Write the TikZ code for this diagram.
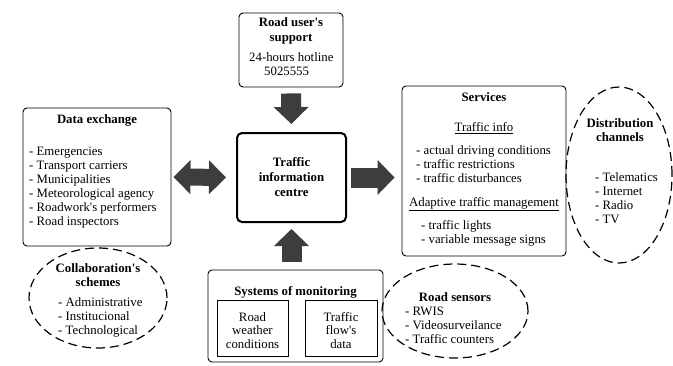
\documentclass[tikz,border=0pt]{standalone}
\usepackage{fontspec}
\setmainfont{Liberation Serif}
\usetikzlibrary{arrows.meta,shapes.geometric}
\newcommand{\apos}{\textquotesingle}

\begin{document}
\begin{tikzpicture}[x=1pt,y=-1pt,
    every node/.style={font=\rmfamily\fontsize{12.8}{14}\selectfont, inner sep=0pt},
    box/.style={draw, rounded corners=4pt, line width=0.9pt},
    subbox/.style={draw, line width=0.8pt},
    cloud/.style={draw, ellipse, line width=1.2pt, dash pattern=on 9pt off 5pt},
    title/.style={font=\rmfamily\fontsize{12.8}{14.5}\selectfont\bfseries, align=center},
    list/.style={align=left, anchor=north west},
    bigarrow/.style={draw=black!76, line width=20pt, -{Triangle[length=17pt,width=34pt]}},
    bigdarrow/.style={draw=black!76, line width=17pt, {Triangle[length=17pt,width=33pt]}-{Triangle[length=17pt,width=33pt]}}]
    \useasboundingbox (0,0) rectangle (673,365);

    % Draw boxes
    \node[box, minimum width=148pt, minimum height=138pt] (dx) at (97,177) {};
    \node[box, minimum width=104pt, minimum height=74pt] (rus) at (291,50) {};
    \node[box, line width=2pt, rounded corners=5pt, minimum width=109pt, minimum height=89pt] (tic) at (291.5,177.5) {};
    \node[box, minimum width=164pt, minimum height=170pt] (svc) at (484,171) {};
    \node[box, minimum width=175pt, minimum height=92pt] (mon) at (295.5,316) {};
    \node[subbox, minimum width=71pt, minimum height=56pt] (weather) at (252.5,328) {};
    \node[subbox, minimum width=72pt, minimum height=56pt] (flow) at (341,328) {};

    % Draw dashed ellipses
    \node[cloud, minimum width=138pt, minimum height=100pt] (collab) at (98,298) {};
    \node[cloud, minimum width=106pt, minimum height=176pt] (dist) at (619,175) {};
    \node[cloud, minimum width=146pt, minimum height=94pt] (sens) at (455,311) {};

    % Draw block arrows
    \draw[bigarrow, shorten <=6pt, shorten >=8pt] (rus.south) -- (tic.north);
    \draw[bigarrow, shorten <=8pt, shorten >=6pt] (tic.south |- mon.north) -- (tic.south);
    \draw[bigarrow, shorten <=4pt, shorten >=7pt] (tic.east) -- (tic.east -| svc.west);
    \draw[bigdarrow, shorten <=2pt, shorten >=10pt] (dx.east) -- (tic.west);

    % Data exchange
    \node[title] (dxt) at (97,120) {Data exchange};
    \node[list] (dxl) at (29,147) {- Emergencies\\- Transport carriers\\- Municipalities\\- Meteorological agency\\- Roadwork\apos s performers\\- Road inspectors};
    \node[title] (collabt) at (98,275) {Collaboration\apos s\\schemes};
    \node[list] (collabl) at (58,297) {- Administrative\\- Institucional\\- Technological};

    % Road user's support
    \node[title] (rust) at (291,31) {Road user\apos s\\support};
    \node[anchor=west] (rusa) at (249,57) {24-hours hotline};
    \node[anchor=west] (rusb) at (264,71) {5025555};

    % Centre
    \node[title, font=\rmfamily\fontsize{12.8}{15}\selectfont\bfseries] (tict) at (291.5,177.5) {Traffic\\information\\centre};

    % Services
    \node[title] (svct) at (484,97) {Services};
    \node (svca) at (484,128) {\underline{Traffic info}};
    \node[list] (svcal) at (416,145) {- actual driving conditions\\- traffic restrictions\\- traffic disturbances};
    \node (svcb) at (484,204) {\underline{Adaptive traffic management}};
    \node[list] (svcbl) at (421,220) {- traffic lights\\- variable message signs};
    \node[title] (distt) at (620,130) {Distribution\\channels};
    \node[list] (distl) at (595,172) {- Telematics\\- Internet\\- Radio\\- TV};

    % Systems of monitoring
    \node[title] (mont) at (295.5,292) {Systems of monitoring};
    \node[align=center, font=\rmfamily\fontsize{12.8}{13.5}\selectfont] (weathert) at (252.5,330.5) {Road\\weather\\conditions};
    \node[align=center, font=\rmfamily\fontsize{12.8}{13.5}\selectfont] (flowt) at (341,330.5) {Traffic\\flow\apos s\\data};
    \node[title] (senst) at (455,297) {Road sensors};
    \node[list] (sensl) at (405,307) {- RWIS\\- Videosurveilance\\- Traffic counters};
\end{tikzpicture}
\end{document}
